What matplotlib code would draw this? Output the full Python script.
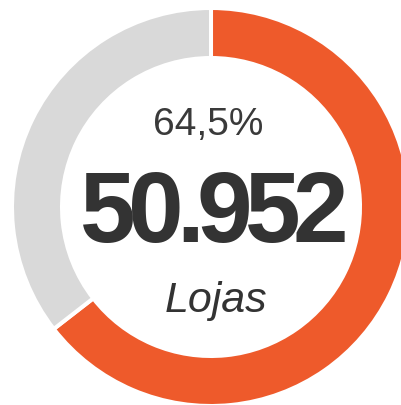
import matplotlib
matplotlib.use("Agg")
import matplotlib.pyplot as plt

# --------------------------
# data
# --------------------------
shares = [64.5, 35.5]                 # orange part, grey remainder
slice_colors = ["#EE5A2B", "#D9D9D9"]
pct_label = "64,5%"
count_label = "50.952"
unit_label = "Lojas"

W, H = 402, 406
fig = plt.figure(figsize=(W / 100, H / 100), dpi=100)
ax = fig.add_axes([0, 0, 1, 1])

# donut, clockwise from 12 o'clock, white separator between slices
ax.pie(shares, colors=slice_colors, startangle=90, counterclock=False,
       radius=199, center=(211, 198),
       wedgeprops=dict(width=50, edgecolor="white", linewidth=2.9))

ax.set_xlim(0, W)
ax.set_ylim(0, H)
ax.set_aspect("equal")
ax.axis("off")

font = "Liberation Sans"

ax.text(208, 271, pct_label, fontsize=28, color="#3a3a3a",
        ha="center", va="baseline", family=font)

# big number: glyphs are set tight, so place them one by one
renderer = fig.canvas.get_renderer()
gap = -7.5
parts = []
for ch in count_label:
    t = ax.text(0, 164, ch, fontsize=72, fontweight="bold", color="#333333",
                ha="left", va="baseline", family=font)
    parts.append((t, t.get_window_extent(renderer).width))
total = sum(w for _, w in parts) + gap * (len(parts) - 1)
x = 214 - total / 2
for t, w in parts:
    t.set_x(x)
    x += w + gap

ax.text(216, 94, unit_label, fontsize=31, style="italic", color="#333333",
        ha="center", va="baseline", family=font)

fig.savefig("out.png", dpi=100)
